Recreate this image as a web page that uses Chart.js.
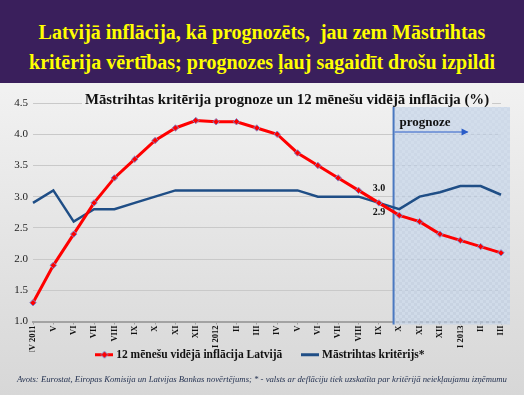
<!DOCTYPE html>
<html lang="lv">
<head>
<meta charset="utf-8">
<title>Inflācija un Māstrihtas kritērijs</title>
<script src="https://cdn.jsdelivr.net/npm/chart.js"></script>
<style>
  html, body { margin: 0; padding: 0; }
  body {
    width: 524px; height: 395px; position: relative; overflow: hidden;
    background: linear-gradient(to bottom, #f3f3f3 0px, #f1f1f1 90px, #d7d7d7 395px);
    font-family: "Liberation Serif", "DejaVu Serif", serif;
  }
  #banner {
    position: absolute; left: 0; top: 0; width: 524px; height: 83px;
    background: #3a1f5c; color: #ffff00; z-index: 2;
    font-weight: bold; font-size: 20px; line-height: 30px;
    text-align: center; padding-top: 17px; box-sizing: border-box;
  }
  #chartBox { position: absolute; left: 0; top: 0; width: 524px; height: 395px; }
  #source {
    position: absolute; left: 0; top: 374px; width: 524px; text-align: center;
    font-style: italic; font-size: 8.7px; color: #1f2d4d; z-index: 2; white-space: nowrap;
  }
</style>
</head>
<body>
<div id="banner">Latvijā inflācija, kā prognozēts,&nbsp; jau zem Māstrihtas<br>kritērija vērtības; prognozes ļauj sagaidīt drošu izpildi</div>
<div id="chartBox"><canvas id="myChart" width="524" height="395"></canvas></div>
<div id="source">Avots: Eurostat, Eiropas Komisija un Latvijas Bankas novērtējums; * - valsts ar deflāciju tiek uzskatīta par kritērijā neiekļaujamu izņēmumu</div>
<script>
    const months = ['IV 2011', 'V', 'VI', 'VII', 'VIII', 'IX', 'X', 'XI', 'XII',
        'I 2012', 'II', 'III', 'IV', 'V', 'VI', 'VII', 'VIII', 'IX', 'X', 'XI', 'XII',
        'I 2013', 'II', 'III'];
    const inflationLv = [1.3, 1.9, 2.4, 2.9, 3.3, 3.6, 3.9, 4.1, 4.22, 4.2, 4.2, 4.1,
        4.0, 3.7, 3.5, 3.3, 3.1, 2.9, 2.7, 2.6, 2.4, 2.3, 2.2, 2.1];
    const maastricht = [2.9, 3.1, 2.6, 2.8, 2.8, 2.9, 3.0, 3.1, 3.1, 3.1, 3.1, 3.1,
        3.1, 3.1, 3.0, 3.0, 3.0, 2.9, 2.8, 3.0, 3.07, 3.17, 3.17, 3.03];
    const yTicks = [1.0, 1.5, 2.0, 2.5, 3.0, 3.5, 4.0, 4.5];
    const lastActual = 17;             // IX 2012, after it - prognoze
    const calloutTexts = ['3.0', '2.9']; // Māstrihtas kritērijs, inflācija

    const serif = '"Liberation Serif", "Times New Roman", serif';

    // legend icons
    function makeIcon(withMarker, color) {
        const c = document.createElement('canvas');
        c.width = 18; c.height = 9;
        const g = c.getContext('2d');
        g.strokeStyle = color; g.lineWidth = 3;
        g.beginPath(); g.moveTo(0, 4.5); g.lineTo(18, 4.5); g.stroke();
        if (withMarker) {
            g.fillStyle = '#ff0000'; g.strokeStyle = '#7f86c9'; g.lineWidth = 1;
            g.beginPath(); g.moveTo(9, 1); g.lineTo(12.5, 4.5); g.lineTo(9, 8); g.lineTo(5.5, 4.5);
            g.closePath(); g.fill(); g.stroke();
        }
        return c;
    }
    const legendIcons = [makeIcon(true, '#ff0000'), makeIcon(false, '#1f4e86')];

    // checkered fill of the forecast area
    function makePattern(ctx) {
        const p = document.createElement('canvas');
        p.width = 6; p.height = 6;
        const g = p.getContext('2d');
        g.fillStyle = 'rgba(186, 203, 228, 0.62)';
        g.fillRect(0, 0, 6, 6);
        g.fillStyle = 'rgba(214, 224, 238, 0.55)';
        g.fillRect(0, 0, 3, 3);
        g.fillRect(3, 3, 3, 3);
        return ctx.createPattern(p, 'repeat');
    }

    const forecastPlugin = {
        id: 'forecast',
        afterLayout(chart) {
            // pull the legend up beside the long rotated labels, centre it on the page
            const lg = chart.legend;
            const shift = lg.top - 327;
            lg.top -= shift;
            lg.bottom -= shift;
            lg.left += 11;
            lg.right += 11;
        },
        beforeDatasetsDraw(chart) {
            const { ctx, scales: { x, y } } = chart;
            const step = x.getPixelForValue(1) - x.getPixelForValue(0);
            const left = x.getPixelForValue(lastActual) + step * 0.72;
            const right = x.getPixelForValue(months.length - 1) + 9;
            const top = y.getPixelForValue(4.5) + 4;
            const bottom = chart.chartArea.bottom + 3;
            ctx.save();
            ctx.fillStyle = makePattern(ctx);
            ctx.fillRect(left, top, right - left, bottom - top);
            ctx.strokeStyle = '#4a78c0';
            ctx.lineWidth = 2;
            ctx.beginPath(); ctx.moveTo(left, top); ctx.lineTo(left, bottom); ctx.stroke();
            // label + arrow
            ctx.fillStyle = '#111';
            ctx.font = 'bold 13px ' + serif;
            ctx.textBaseline = 'middle';
            ctx.textAlign = 'left';
            ctx.fillText('prognoze', left + 6, top + 16);
            const ay = top + 25;
            const ax = left + 74;
            ctx.strokeStyle = '#2a5cc8'; ctx.lineWidth = 1;
            ctx.beginPath(); ctx.moveTo(left + 1, ay); ctx.lineTo(ax, ay); ctx.stroke();
            ctx.fillStyle = '#2a5cc8';
            ctx.beginPath(); ctx.moveTo(ax + 1, ay); ctx.lineTo(ax - 6, ay - 3.5); ctx.lineTo(ax - 6, ay + 3.5);
            ctx.closePath(); ctx.fill();
            ctx.restore();
        },
        afterDraw(chart) {
            const { ctx, scales: { x, y } } = chart;
            ctx.save();
            // callouts at last actual month
            ctx.font = 'bold 10px ' + serif;
            ctx.fillStyle = '#111';
            ctx.textAlign = 'center';
            ctx.textBaseline = 'middle';
            const cx = x.getPixelForValue(lastActual);
            ctx.fillText(calloutTexts[0], cx, y.getPixelForValue(maastricht[lastActual]) - 14);
            ctx.fillText(calloutTexts[1], cx, y.getPixelForValue(inflationLv[lastActual]) + 10);
            // chart title, drawn over the top gridline
            const title = 'Māstrihtas kritērija prognoze un 12 mēnešu vidējā inflācija (%)';
            ctx.font = 'bold 14.8px ' + serif;
            const w = ctx.measureText(title).width;
            const tx = 287, ty = 100;
            ctx.fillStyle = '#f1f1f1';
            ctx.fillRect(tx - w / 2 - 3, ty - 8, w + 6, 15);
            ctx.fillStyle = '#111';
            ctx.fillText(title, tx, ty);
            ctx.restore();
        }
    };

    const defaultLabels = Chart.defaults.plugins.legend.labels.generateLabels;

    const ctx = document.getElementById('myChart').getContext('2d');
    const chart = new Chart(ctx, {
        type: 'line',
        data: {
            labels: months,
            datasets: [{
                label: '12 mēnešu vidējā inflācija Latvijā',
                data: inflationLv,
                borderColor: '#ff0000',
                backgroundColor: '#ff0000',
                borderWidth: 3,
                pointStyle: 'rectRot',
                pointRadius: 3.2,
                pointBorderColor: '#7f86c9',
                pointBorderWidth: 1,
                pointBackgroundColor: '#ff0000',
                tension: 0,
                order: 1
            }, {
                label: 'Māstrihtas kritērijs*',
                data: maastricht,
                borderColor: '#1f4e86',
                backgroundColor: '#1f4e86',
                borderWidth: 2.5,
                pointRadius: 0,
                tension: 0,
                order: 2
            }]
        },
        options: {
            responsive: false,
            animation: false,
            layout: { padding: { top: 103, right: 23, bottom: 0, left: 0 } },
            scales: {
                x: {
                    offset: false,
                    grid: { drawOnChartArea: false, tickLength: 3, tickColor: '#a3a3a3' },
                    border: { display: true, color: '#a3a3a3', width: 2 },
                    ticks: {
                        autoSkip: false, maxRotation: 90, minRotation: 90,
                        color: '#111', padding: 1,
                        font: { family: serif, size: 8.5, weight: 'bold' }
                    },
                    afterFit(s) { s.height = 30; }
                },
                y: {
                    min: 1.0, max: 4.5,
                    afterBuildTicks(s) { s.ticks = yTicks.map(v => ({ value: v })); },
                    grid: { color: '#c9c9c9', lineWidth: 1, drawTicks: false },
                    border: { display: false },
                    ticks: {
                        color: '#222', padding: 5,
                        font: { family: serif, size: 11 },
                        callback: v => v.toFixed(1)
                    },
                    afterFit(s) { s.width = 33; }
                }
            },
            plugins: {
                title: { display: false },
                tooltip: { enabled: false },
                legend: {
                    position: 'bottom',
                    labels: {
                        usePointStyle: true,
                        pointStyleWidth: 12,
                        boxHeight: 9,
                        padding: 22,
                        color: '#111',
                        font: { family: serif, size: 11.5, weight: 'bold' },
                        generateLabels(c) {
                            return defaultLabels(c).map((l, i) => ({ ...l, pointStyle: legendIcons[i], lineWidth: 0 }));
                        }
                    }
                }
            }
        },
        plugins: [forecastPlugin]
    });
</script>
</body>
</html>
